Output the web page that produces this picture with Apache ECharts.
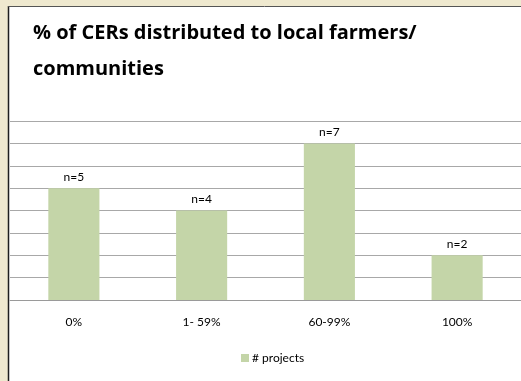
<!DOCTYPE html>
<html lang="en">
<head>
    <meta charset="UTF-8">
    <title>CERs distributed</title>
    <script type="text/javascript" src="https://cdn.jsdelivr.net/npm/echarts@6/dist/echarts.min.js"></script>
    <style>
        html, body { margin: 0; padding: 0; background: #efe9cf; }
    </style>
</head>
<body>
    <div id="container" style="width:521px;height:381px"></div>

    <script type="text/javascript">
        // data
        var categories = ['0%', '1- 59%', '60-99%', '100%'];
        var projects = [5, 4, 7, 2];
        var seriesName = '# projects';
        var titleText = '% of CERs distributed to local farmers/\ncommunities';

        var dom = document.getElementById("container");
        var myChart = echarts.init(dom);
        var font = 'Lato, "Open Sans", sans-serif';

        var option = {
            backgroundColor: '#efe9cf',
            animation: false,
            graphic: [
                // white chart panel with its dark frame
                {
                    type: 'rect', z: -10,
                    shape: { x: 8, y: 6, width: 600, height: 500 },
                    style: { fill: '#ffffff' }
                },
                {
                    type: 'line', z: -9,
                    shape: { x1: 8.5, y1: 6, x2: 8.5, y2: 381 },
                    style: { stroke: '#1e1e1e', lineWidth: 1.5 }
                },
                {
                    type: 'line', z: -9,
                    shape: { x1: 8, y1: 6.5, x2: 521, y2: 6.5 },
                    style: { stroke: '#555555', lineWidth: 1 }
                }
            ],
            title: {
                text: titleText,
                left: 28,
                top: 10,
                textStyle: {
                    fontFamily: '"Open Sans", sans-serif',
                    fontWeight: 'bold',
                    fontSize: 20,
                    lineHeight: 36,
                    color: '#000'
                }
            },
            legend: {
                data: [seriesName],
                bottom: 12,
                left: 236,
                icon: 'rect',
                itemWidth: 8,
                itemHeight: 8,
                textStyle: { fontFamily: font, fontSize: 12, color: '#000', padding: [0, 0, 0, -2] }
            },
            grid: {
                left: 10,
                top: 121,
                width: 514,
                height: 179,
                containLabel: false
            },
            xAxis: {
                type: 'category',
                data: categories,
                axisLine: { lineStyle: { color: '#9a9a9a' } },
                axisTick: { length: 3, lineStyle: { color: '#9a9a9a' } },
                axisLabel: { margin: 16, fontFamily: font, fontSize: 12, color: '#000' }
            },
            yAxis: {
                type: 'value',
                min: 0,
                max: 8,
                interval: 1,
                axisLabel: { show: false },
                axisLine: { show: false },
                axisTick: { show: false },
                splitLine: { lineStyle: { color: '#a8a8a8' } }
            },
            series: [
                {
                    name: seriesName,
                    type: 'bar',
                    data: projects,
                    barCategoryGap: '60%',
                    itemStyle: { color: '#c4d5a8' },
                    label: {
                        show: true,
                        position: 'top',
                        distance: 5,
                        fontFamily: font,
                        fontSize: 12,
                        color: '#000',
                        formatter: function (p) { return 'n=' + p.value; }
                    }
                }
            ]
        };

        if (option && typeof option === "object") {
            myChart.setOption(option, true);
        }
    </script>
</body>
</html>
